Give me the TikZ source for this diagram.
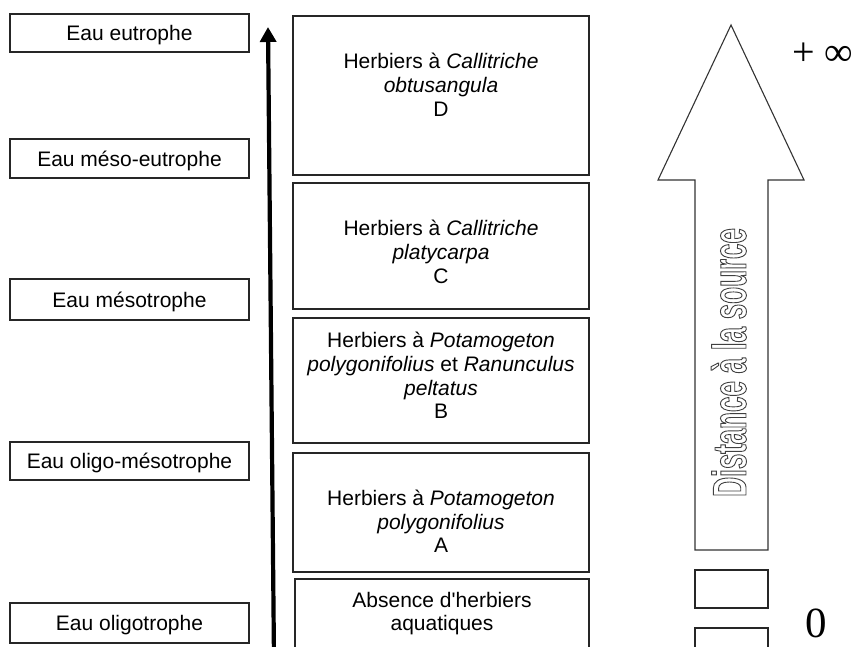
\documentclass[tikz,border=0pt]{standalone}
\usepackage{fontspec}
\setmainfont{Liberation Sans}
\newfontfamily\serifnum{Liberation Serif}
\newfontfamily\condfont{Liberation Sans}[FakeStretch=0.585]
\usetikzlibrary{arrows.meta}
\begin{document}
\begin{tikzpicture}[x=1pt,y=-1pt,
  box/.style={draw=black!85, line width=1.1pt, rectangle, inner sep=0pt},
  lbox/.style={box, minimum width=239pt, text height=15pt, text depth=0pt,
    font=\fontsize{21}{24}\selectfont},
  lbl/.style={font=\fontsize{21}{24}\selectfont, inner sep=0pt, anchor=base},
  bigarrow/.style={draw=black!80, line width=1.1pt}
]
\useasboundingbox (0,0) rectangle (861,646);
\clip (0,0) rectangle (861,646);

% left labels
\node[lbox, minimum height=38pt] (eu) at (129.5,33) {Eau eutrophe};
\node[lbox, minimum height=39pt] (meu) at (129.5,158.5) {Eau méso-eutrophe};
\node[lbox, minimum height=41pt] (mes) at (129.5,299.5) {Eau mésotrophe};
\node[lbox, minimum height=38pt] (olm) at (129.5,461) {Eau oligo-mésotrophe};
\node[lbox, minimum height=40pt] (olg) at (129.5,623) {Eau oligotrophe};

% vertical arrow
\coordinate (abot) at (274,660);
\coordinate (atop) at (268,27);
\draw[line width=4.2pt, -{Triangle[length=15pt,width=16pt]}] (abot) -- (atop);

% middle boxes
\node[box, minimum width=296pt, minimum height=159pt] (bD) at (441,95.5) {};
\node[box, minimum width=296pt, minimum height=126pt] (bC) at (441,246) {};
\node[box, minimum width=296pt, minimum height=125pt] (bB) at (441,380.5) {};
\node[box, minimum width=296pt, minimum height=119pt] (bA) at (441,512.5) {};
\node[box, minimum width=294pt, minimum height=81pt] (b0) at (442,619.5) {};

\node[lbl] (d1) at (441,68) {Herbiers à \textit{Callitriche}};
\node[lbl] (d2) at (441,92) {\textit{obtusangula}};
\node[lbl] (d3) at (441,116) {D};

\node[lbl] (c1) at (441,235) {Herbiers à \textit{Callitriche}};
\node[lbl] (c2) at (441,259) {\textit{platycarpa}};
\node[lbl] (c3) at (441,283) {C};

\node[lbl] (p1) at (441,347) {Herbiers à \textit{Potamogeton}};
\node[lbl] (p2) at (441,371) {\textit{polygonifolius} et \textit{Ranunculus}};
\node[lbl] (p3) at (441,395) {\textit{peltatus}};
\node[lbl] (p4) at (441,418) {B};

\node[lbl] (a1) at (441,505) {Herbiers à \textit{Potamogeton}};
\node[lbl] (a2) at (441,529) {\textit{polygonifolius}};
\node[lbl] (a3) at (441,552) {A};

\node[lbl] (z1) at (442,607) {Absence d\textquotesingle herbiers};
\node[lbl] (z2) at (442,630) {aquatiques};

% big hollow arrow
\draw[bigarrow] (731,25) -- (804,180) -- (768,180) -- (768,550) -- (695,550)
  -- (695,180) -- (658,180) -- cycle;
\node[rotate=90, anchor=base, inner sep=0pt,
  font=\condfont\bfseries\fontsize{47.5}{50}\selectfont] (dist) at (746,362.5)
  {\special{pdf:literal direct 1 Tr 0.9 w 0.25 G}Distance à la source\special{pdf:literal direct 0 Tr 0 G}};

% small boxes
\node[box, minimum width=73pt, minimum height=38pt] (s1) at (731.5,589) {};
\node[box, minimum width=73pt, minimum height=38pt] (s2) at (731.5,647) {};

% scale labels
\node[inner sep=0pt, anchor=base west, font=\serifnum\fontsize{40}{44}\selectfont] (inf) at (792,65) {+ ∞};
\node[inner sep=0pt, anchor=base, font=\serifnum\fontsize{43}{46}\selectfont] (zero) at (816.5,637) {0};
\end{tikzpicture}
\end{document}
